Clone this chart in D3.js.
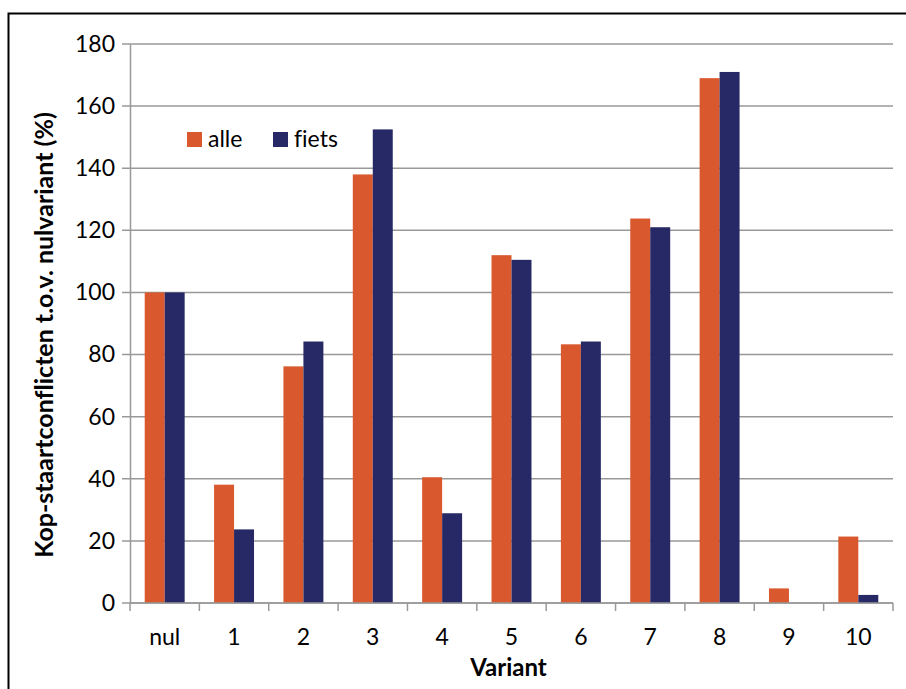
<!doctype html>
<html lang="nl">
<head>
<meta charset="UTF-8">
<title>Kop-staartconflicten</title>
<script src="https://cdn.jsdelivr.net/npm/d3@7"></script>
<style>
  body { margin: 0; background: #fff; }
  svg text { font-family: Lato, "Open Sans", sans-serif; fill: #000; font-variant-ligatures: none; }
</style>
</head>
<body>
<svg width="906" height="689"></svg>
<script>
// data
var categories = ['nul', '1', '2', '3', '4', '5', '6', '7', '8', '9', '10'];
var series = ['alle', 'fiets'];
var alle  = [100, 38.1, 76.2, 138, 40.5, 112, 83.3, 123.8, 169, 4.7, 21.4];
var fiets = [100, 23.7, 84.2, 152.5, 28.9, 110.5, 84.2, 121, 171, 0, 2.6];
var yTicks = [0, 20, 40, 60, 80, 100, 120, 140, 160, 180];
var colors = ['#d9582d', '#272966'];

var svg = d3.select('svg');
var margin = {top: 44, right: 13, bottom: 86, left: 130};
var width = 906 - margin.left - margin.right,
    height = 689 - margin.top - margin.bottom;

// outer frame
svg.append('rect')
  .attr('x', 8.5).attr('y', 13.5)
  .attr('width', 906).attr('height', 700)
  .attr('fill', 'none').attr('stroke', '#000').attr('stroke-width', 2);

var g = svg.append('g').attr('transform', 'translate(' + margin.left + ',' + margin.top + ')');

var x = d3.scaleBand().domain(categories).range([0, width]).paddingInner(0.424).paddingOuter(0.212);
var x1 = d3.scaleBand().domain(series).range([0, x.bandwidth()]);
var y = d3.scaleLinear().domain([0, 180]).range([height, 0]);

// gridlines
g.append('g')
  .selectAll('line').data(yTicks).enter().append('line')
  .attr('x1', -8).attr('x2', width)
  .attr('y1', function(d) { return y(d); }).attr('y2', function(d) { return y(d); })
  .attr('stroke', '#999').attr('stroke-width', 1.5);

// y axis
var yAxis = g.append('g').call(d3.axisLeft(y).tickValues(yTicks).tickSize(0).tickPadding(15));
yAxis.select('.domain').attr('stroke', '#999').attr('stroke-width', 1.5);
yAxis.selectAll('text').style('font-size', '23px');

// bars
var data = categories.map(function(c, i) { return {cat: c, vals: [alle[i], fiets[i]]}; });
var groups = g.selectAll('.grp').data(data).enter().append('g')
  .attr('transform', function(d) { return 'translate(' + x(d.cat) + ',0)'; });
groups.selectAll('rect').data(function(d) { return d.vals.map(function(v, j) { return {s: series[j], v: v, j: j}; }); })
  .enter().append('rect')
  .attr('x', function(d) { return x1(d.s); })
  .attr('width', x1.bandwidth())
  .attr('y', function(d) { return y(d.v); })
  .attr('height', function(d) { return height - y(d.v); })
  .attr('fill', function(d) { return colors[d.j]; });

// x axis with category boundary ticks
var step = x.step();
var xAxis = g.append('g').attr('transform', 'translate(0,' + height + ')');
xAxis.append('line').attr('x1', 0).attr('x2', width).attr('stroke', '#999').attr('stroke-width', 1.5);
xAxis.selectAll('.tk').data(d3.range(categories.length + 1)).enter().append('line')
  .attr('x1', function(i) { return i * step; }).attr('x2', function(i) { return i * step; })
  .attr('y1', 0).attr('y2', 8).attr('stroke', '#999').attr('stroke-width', 1.5);
xAxis.selectAll('.lbl').data(categories).enter().append('text')
  .attr('x', function(d) { return x(d) + x.bandwidth() / 2; })
  .attr('y', 42)
  .attr('text-anchor', 'middle')
  .style('font-size', '23px')
  .text(function(d) { return d; });

// axis titles
svg.append('text')
  .attr('x', margin.left + width / 2 - 3).attr('y', 676)
  .attr('text-anchor', 'middle')
  .style('font-size', '24px').style('font-weight', 'bold')
  .text('Variant');
svg.append('text')
  .attr('transform', 'translate(53,335) rotate(-90)')
  .attr('text-anchor', 'middle')
  .style('font-size', '25px').style('font-weight', 'bold')
  .text('Kop-staartconflicten t.o.v. nulvariant (%)');

// legend
var legend = svg.append('g').attr('transform', 'translate(187,132)');
var legX = [0, 86];
series.forEach(function(s, i) {
  legend.append('rect').attr('x', legX[i]).attr('y', 0).attr('width', 15).attr('height', 15).attr('fill', colors[i]);
  legend.append('text').attr('x', legX[i] + 21).attr('y', 15).style('font-size', '23px').text(s);
});
</script>
</body>
</html>
